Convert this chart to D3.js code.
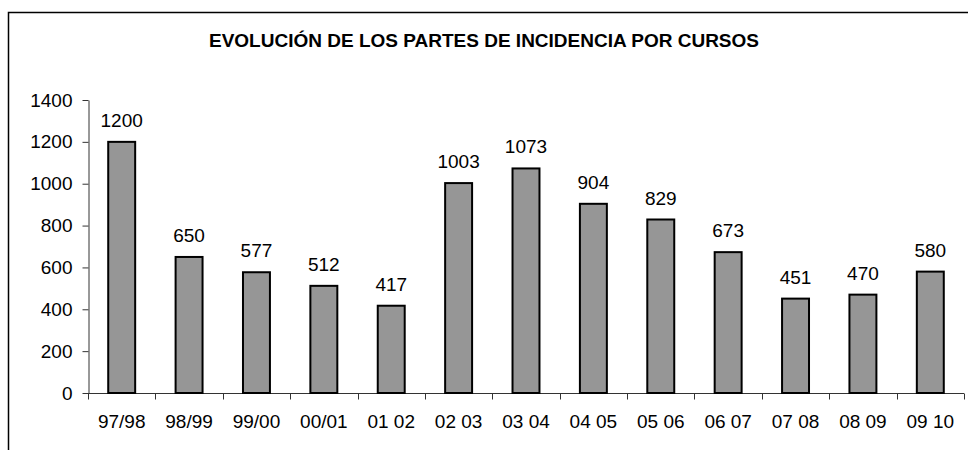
<!DOCTYPE html>
<html>
<head>
<meta charset="utf-8">
<script src="https://cdn.jsdelivr.net/npm/d3@7"></script>
<style>
  body { margin: 0; background: #fff; }
  svg { display: block; font-family: Arial, "Liberation Sans", sans-serif; }
</style>
</head>
<body>
<svg id="chart"></svg>
<script>
// Data
const courses = ["97/98", "98/99", "99/00", "00/01", "01 02", "02 03", "03 04",
  "04 05", "05 06", "06 07", "07 08", "08 09", "09 10"]
const incidents = [1200, 650, 577, 512, 417, 1003, 1073, 904, 829, 673, 451, 470, 580]
const yTicks = [0, 200, 400, 600, 800, 1000, 1200, 1400]
const title = "EVOLUCIÓN DE LOS PARTES DE INCIDENCIA POR CURSOS"

const width = 968
const height = 450

const svg = d3.select("#chart")
  .attr("width", width)
  .attr("height", height)

// Frame (cut off at right and bottom)
svg.append("path")
  .attr("d", `M8.5,${height} V12.5 H${width}`)
  .attr("fill", "none")
  .attr("stroke", "#000")
  .attr("stroke-width", 1.5)

// Title
svg.append("text")
  .attr("x", 484)
  .attr("y", 47)
  .attr("text-anchor", "middle")
  .attr("font-weight", "bold")
  .attr("font-size", 19)
  .text(title)

// Scales
const x = d3.scaleBand()
  .domain(courses)
  .range([88, 964])
  .paddingInner(0.6)
  .paddingOuter(0.3)

const y = d3.scaleLinear()
  .domain([0, 1400])
  .range([393, 100])

// Y axis
svg.append("g")
  .attr("transform", "translate(88.5,0)")
  .call(d3.axisLeft(y).tickValues(yTicks).tickFormat(d3.format("d"))
    .tickSize(6).tickPadding(10).tickSizeOuter(0))
  .call(g => g.select(".domain").attr("stroke", "#333"))
  .call(g => g.selectAll(".tick line").attr("stroke", "#333"))
  .call(g => g.selectAll(".tick text")
    .attr("font-family", "Arial, 'Liberation Sans', sans-serif")
    .attr("font-size", 19)
    .attr("fill", "#000"))

// X axis with ticks between categories
const step = x.step()
svg.append("g")
  .attr("transform", "translate(0,393.5)")
  .call(g => g.append("line")
    .attr("x1", 88).attr("x2", 964)
    .attr("stroke", "#333"))
  .call(g => g.selectAll(".sep")
    .data(d3.range(courses.length + 1))
    .join("line")
    .attr("class", "sep")
    .attr("x1", i => Math.round(88 + i * step) + 0.5)
    .attr("x2", i => Math.round(88 + i * step) + 0.5)
    .attr("y1", 0).attr("y2", 6)
    .attr("stroke", "#333"))
  .call(g => g.selectAll(".lbl")
    .data(courses)
    .join("text")
    .attr("class", "lbl")
    .attr("x", d => x(d) + x.bandwidth() / 2)
    .attr("y", 34)
    .attr("text-anchor", "middle")
    .attr("font-size", 19)
    .text(d => d))

// Bars
svg.append("g")
  .selectAll("rect")
  .data(incidents)
  .join("rect")
  .attr("x", (d, i) => x(courses[i]))
  .attr("y", d => y(d))
  .attr("width", x.bandwidth())
  .attr("height", d => y(0) - y(d))
  .attr("fill", "#969696")
  .attr("stroke", "#000")
  .attr("stroke-width", 2)

// Value labels
svg.append("g")
  .selectAll("text")
  .data(incidents)
  .join("text")
  .attr("x", (d, i) => x(courses[i]) + x.bandwidth() / 2)
  .attr("y", d => y(d) - 15)
  .attr("text-anchor", "middle")
  .attr("font-size", 19)
  .text(d => d)
</script>
</body>
</html>
